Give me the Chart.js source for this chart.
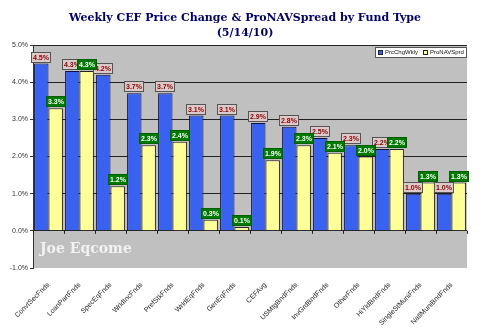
<!DOCTYPE html>
<html>
<head>
<meta charset="utf-8">
<script src="https://cdn.jsdelivr.net/npm/chart.js@4.4.0/dist/chart.umd.min.js"></script>
<style>
html,body{margin:0;padding:0;background:#fff;}
#wrap{width:490px;height:336px;position:relative;}
</style>
</head>
<body>
<div id="wrap"><canvas id="c" width="490" height="336"></canvas></div>
<script>
const titleLines = ["Weekly CEF Price Change & ProNAVSpread by Fund Type", "(5/14/10)"];
const watermark = "Joe Eqcome";
const categories = ["ConvtSecFnds","LoanPartFnds","SpecEqFnds","WrldIncFnds","PrefStkFnds","WrldEqFnds","GenEqFnds","CEFAvg","USMtgBndFnds","InvGrdBndFnds","OtherFnds","HiYldBndFnds","SingleStMuniFnds","NatlMuniBndFnds"];
const seriesNames = ["PrcChgWkly","ProNAVSprd"];
const prcChgWkly = [4.5,4.3,4.2,3.7,3.7,3.1,3.1,2.9,2.8,2.5,2.3,2.2,1.0,1.0];
const proNAVSprd = [3.3,4.3,1.2,2.3,2.4,0.3,0.1,1.9,2.3,2.1,2.0,2.2,1.3,1.3];
const yMin = -1, yMax = 5, yStep = 1;

const bgPlugin = {
  id:'bg',
  beforeDraw(chart){
    const {ctx, chartArea:a} = chart;
    ctx.save();
    ctx.fillStyle = '#c0c0c0';
    ctx.fillRect(a.left, a.top, a.right-a.left, a.bottom-a.top);
    ctx.restore();
  },
  afterDraw(chart){
    const {ctx} = chart;
    ctx.save();
    // title
    ctx.fillStyle = '#000066';
    ctx.font = 'bold 11px "DejaVu Serif"';
    ctx.textAlign = 'center';
    ctx.textBaseline = 'middle';
    ctx.fillText(titleLines[0], 245, 18);
    ctx.fillText(titleLines[1], 245, 33);
    // legend
    const lx = 375, ly = 47, lw = 91, lh = 10;
    ctx.fillStyle = '#ffffff';
    ctx.fillRect(lx, ly, lw, lh);
    ctx.strokeStyle = '#555';
    ctx.lineWidth = 1;
    ctx.strokeRect(lx+0.5, ly+0.5, lw, lh);
    ctx.font = '6px "Liberation Sans"';
    ctx.textAlign = 'left';
    let x = lx + 3;
    chart.data.datasets.forEach(ds => {
      ctx.fillStyle = ds.backgroundColor;
      ctx.fillRect(x, ly+3, 4, 4);
      ctx.strokeStyle = '#222';
      ctx.strokeRect(x+0.5, ly+3.5, 4, 4);
      ctx.fillStyle = '#111';
      ctx.fillText(ds.label, x+7, ly+5.5);
      x += 7 + ctx.measureText(ds.label).width + 5;
    });
    ctx.restore();
  }
};

const labelPlugin = {
  id:'lbl',
  afterDatasetsDraw(chart){
    const {ctx, scales} = chart;
    ctx.save();
    const y0 = scales.y.getPixelForValue(0);
    const xs = scales.x;
    const cw = (xs.right - xs.left)/categories.length;
    ctx.strokeStyle = '#222';
    ctx.lineWidth = 1;
    for (let i=0;i<=categories.length;i++){
      const px = Math.round(xs.left + i*cw)+0.5;
      ctx.beginPath(); ctx.moveTo(px, y0); ctx.lineTo(px, y0+3); ctx.stroke();
    }
    // watermark
    ctx.fillStyle = '#f2f2f2';
    ctx.font = 'bold 14px "DejaVu Serif"';
    ctx.textAlign = 'left';
    ctx.textBaseline = 'alphabetic';
    ctx.fillText(watermark, 40, 253);

    ctx.font = 'bold 7px "Liberation Sans"';
    ctx.textAlign = 'center';
    ctx.textBaseline = 'middle';
    const styles = [
      {bg:'#dccaca', fg:'#8b0000', border:'#555'},
      {bg:'#007a00', fg:'#ffffff', border:'#006000'}
    ];
    chart.data.datasets.forEach((ds, di) => {
      const meta = chart.getDatasetMeta(di);
      const st = styles[di];
      meta.data.forEach((el, i) => {
        const txt = ds.data[i].toFixed(1) + '%';
        const w = Math.ceil(ctx.measureText(txt).width) + 4;
        const h = 11;
        const bx = Math.round(el.x - w/2);
        const by = Math.round(el.y - h - 1);
        ctx.fillStyle = st.bg;
        ctx.fillRect(bx, by, w, h);
        ctx.strokeStyle = st.border;
        ctx.strokeRect(bx+0.5, by+0.5, w-1, h-1);
        ctx.fillStyle = st.fg;
        ctx.fillText(txt, bx + w/2, by + h/2 + 0.5);
      });
    });
    ctx.restore();
  }
};

new Chart(document.getElementById('c'), {
  type:'bar',
  data:{
    labels: categories,
    datasets:[
      {label: seriesNames[0], data: prcChgWkly, backgroundColor:'#3a62f0', borderColor:'#101040', borderWidth:1, categoryPercentage:0.93, barPercentage:1.0},
      {label: seriesNames[1], data: proNAVSprd, backgroundColor:'#ffff99', borderColor:'#222222', borderWidth:1, categoryPercentage:0.93, barPercentage:1.0}
    ]
  },
  options:{
    responsive:false,
    animation:false,
    devicePixelRatio:1,
    layout:{padding:{top:45, right:23, left:0, bottom:0}},
    plugins:{legend:{display:false}, title:{display:false}, tooltip:{enabled:false}},
    scales:{
      x:{
        grid:{display:false},
        border:{display:false},
        ticks:{autoSkip:false, minRotation:45, maxRotation:45, color:'#222', font:{family:'Liberation Sans', size:7}, padding:5},
        afterFit(s){ s.height = 68; }
      },
      y:{
        min:yMin, max:yMax,
        ticks:{stepSize:yStep, color:'#333', font:{family:'Liberation Sans', size:7}, padding:2,
          callback:v => v.toFixed(1)+'%'},
        grid:{color:ctx => ctx.tick && ctx.tick.value === yMin ? 'rgba(0,0,0,0)' : '#222', tickLength:3, tickColor:'#333'},
        border:{display:true, color:'#333'},
        afterFit(s){ s.width = 33; }
      }
    }
  },
  plugins:[bgPlugin, labelPlugin]
});
</script>
</body>
</html>
